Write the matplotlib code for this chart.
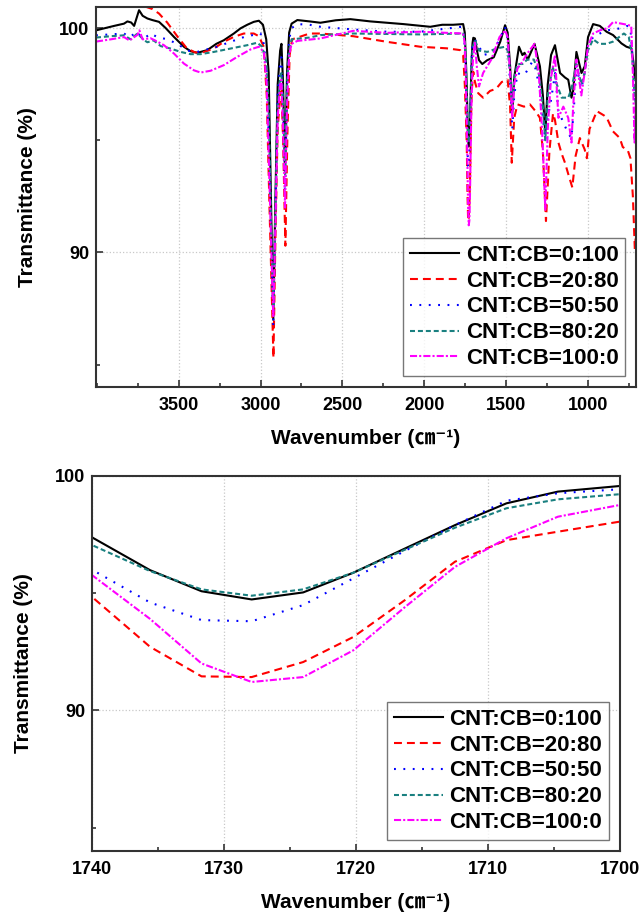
import matplotlib
matplotlib.use("Agg")
import matplotlib.pyplot as plt
import matplotlib.ticker as ticker

plt.rcParams['font.family'] = ['Liberation Sans', 'Noto Sans CJK KR', 'DejaVu Sans']
plt.rcParams['font.weight'] = 'bold'

LABELS = ["CNT:CB=0:100", "CNT:CB=20:80", "CNT:CB=50:50", "CNT:CB=80:20", "CNT:CB=100:0"]
COLORS = ['#000000', '#ff0000', '#0000ff', '#1a8080', '#ff00ff']
STYLES = ['-', (0, (3.8, 2.4)), (0, (0.9, 3.6)), (0, (2.4, 1.4)), (0, (3.4, 1.0, 1.0, 1.0))]

# CNT:CB=0:100
wn_0_100 = [4005, 3950, 3894, 3834, 3813, 3790, 3772, 3742, 3720, 3691, 3661, 3620, 3579, 3529, 3468,
            3427, 3386, 3325, 3270, 3224, 3163, 3122, 3081, 3041, 3010, 2985, 2965, 2950, 2935, 2922,
            2910, 2895, 2880, 2872, 2862, 2850, 2838, 2825, 2810, 2775, 2700, 2634, 2540, 2451, 2329,
            2127, 1963, 1890, 1823, 1762, 1752, 1745, 1740, 1735.6, 1731.7, 1727.9, 1724.0, 1720.2,
            1716.3, 1712.5, 1708.6, 1704.7, 1700, 1690, 1675, 1665, 1645, 1615, 1575, 1535, 1506, 1490,
            1475, 1462, 1450, 1421, 1400, 1387, 1367, 1326, 1293, 1275, 1260, 1245, 1225, 1201, 1170,
            1140, 1120, 1100, 1090, 1070, 1039, 1019, 999, 968, 927, 886, 846, 795, 764, 734, 722, 714, 705]
t_0_100 = [99.9, 100.0, 100.1, 100.2, 100.3, 100.25, 100.1, 100.8, 100.55, 100.43, 100.36, 100.28, 100.0,
           99.61, 99.17, 98.97, 98.9, 99.02, 99.3, 99.46, 99.76, 99.99, 100.15, 100.28, 100.33, 100.15,
           99.5, 98.0, 92.0, 87.0, 92.0, 97.5, 99.0, 99.3, 97.5, 93.5, 98.0, 99.8, 100.2, 100.36, 100.3,
           100.24, 100.35, 100.4, 100.3, 100.18, 100.06, 100.15, 100.15, 100.18, 99.8, 98.5, 97.38,
           95.98, 95.08, 94.73, 95.03, 95.87, 96.9, 97.9, 98.83, 99.33, 99.57, 99.54, 98.9, 98.57, 98.4,
           98.57, 98.7, 99.4, 100.13, 99.8, 98.3, 96.2, 97.8, 99.17, 98.8, 98.9, 98.6, 99.3, 98.3, 97.0,
           95.3, 97.5, 98.8, 99.24, 98.0, 97.8, 97.7, 96.9, 97.2, 98.94, 98.0, 98.3, 99.6, 100.18, 100.1,
           99.84, 99.69, 99.32, 99.17, 99.1, 98.5, 97.8, 97.7]

# CNT:CB=20:80
wn_20_80 = [4005, 3900, 3800, 3720, 3660, 3620, 3570, 3510, 3450, 3400, 3360, 3285, 3224, 3163, 3102,
            3041, 3010, 2980, 2962, 2945, 2921, 2908, 2895, 2880, 2872, 2862, 2848, 2835, 2822, 2807,
            2700, 2634, 2433, 2228, 2024, 1862, 1780, 1762, 1752, 1745, 1740, 1735.6, 1731.7, 1727.9,
            1724.0, 1720.2, 1716.3, 1712.5, 1708.6, 1704.7, 1700, 1690, 1670, 1640, 1598, 1560, 1526,
            1490, 1475, 1465, 1450, 1430, 1390, 1354, 1320, 1293, 1275, 1256, 1235, 1213, 1201, 1180,
            1160, 1140, 1120, 1095, 1075, 1049, 1020, 1006, 990, 945, 900, 884, 847, 805, 787, 756, 740,
            725, 713, 705]
t_20_80 = [101.9, 101.8, 101.5, 101.0, 100.85, 100.65, 100.25, 99.65, 99.1, 98.92, 98.9, 99.09, 99.39,
           99.61, 99.76, 99.76, 99.64, 99.17, 97.0, 92.0, 85.3, 91.0, 95.5, 97.0, 97.2, 95.0, 90.3, 95.5,
           98.8, 99.5, 99.76, 99.76, 99.64, 99.39, 99.17, 99.1, 99.02, 98.8, 97.5, 96.0, 94.84, 92.71,
           91.45, 91.42, 92.06, 93.13, 94.7, 96.34, 97.26, 97.62, 98.05, 97.6, 97.1, 96.9, 97.2, 97.3,
           97.6, 97.7, 96.5, 94.0, 96.0, 96.6, 96.5, 96.6, 96.3, 96.0, 94.5, 91.4, 94.5, 96.2, 95.9, 94.9,
           94.4, 94.0, 93.5, 92.9, 94.3, 95.1, 94.6, 94.2, 95.5, 96.3, 96.1, 96.0, 95.4, 95.1, 94.7,
           94.55, 94.2, 92.5, 90.1, 91.0]

# CNT:CB=50:50
wn_50_50 = [4005, 3915, 3834, 3800, 3752, 3730, 3700, 3672, 3630, 3569, 3508, 3447, 3386, 3265, 3183,
            3102, 3041, 3000, 2980, 2962, 2945, 2922, 2908, 2895, 2880, 2872, 2862, 2850, 2838, 2825,
            2810, 2775, 2700, 2634, 2433, 2228, 2024, 1862, 1771, 1755, 1746, 1740, 1735.6, 1731.7,
            1727.9, 1724.0, 1720.2, 1716.3, 1712.5, 1708.6, 1704.7, 1700, 1690, 1665, 1640, 1580, 1540,
            1506, 1490, 1475, 1462, 1450, 1430, 1400, 1380, 1340, 1320, 1300, 1275, 1260, 1245, 1225,
            1200, 1180, 1150, 1120, 1100, 1085, 1070, 1040, 1020, 1000, 968, 927, 886, 846, 795, 760,
            740, 725, 713, 705]
t_50_50 = [99.68, 99.72, 99.76, 99.6, 99.84, 99.6, 99.6, 99.76, 99.6, 99.5, 99.3, 99.0, 98.94, 99.17,
           99.39, 99.6, 99.7, 99.76, 99.3, 98.0, 94.0, 86.7, 92.5, 97.0, 98.5, 98.7, 96.5, 92.5, 97.5,
           99.5, 100.0, 100.18, 100.15, 100.06, 99.94, 99.84, 99.84, 99.98, 100.06, 99.6, 98.0, 96.0,
           94.6, 93.85, 93.8, 94.49, 95.63, 96.8, 97.9, 98.94, 99.26, 99.43, 99.47, 99.2, 98.8, 98.9,
           99.5, 100.06, 99.5, 97.5, 95.5, 97.0, 98.0, 97.9, 98.0, 98.5, 98.2, 97.5, 96.0, 95.0, 96.0,
           96.8, 98.0, 96.3, 95.8, 95.3, 95.1, 96.5, 98.3, 97.3, 98.0, 99.2, 99.6, 99.76, 99.9, 99.94,
           100.0, 100.1, 100.0, 98.5, 95.8, 97.0]

# CNT:CB=80:20
wn_80_20 = [4005, 3915, 3834, 3793, 3752, 3712, 3691, 3652, 3610, 3549, 3488, 3427, 3366, 3285, 3183,
            3081, 3020, 2990, 2965, 2950, 2935, 2921, 2908, 2895, 2880, 2872, 2862, 2850, 2838, 2825,
            2810, 2700, 2634, 2433, 2024, 1762, 1752, 1745, 1740, 1735.6, 1731.7, 1727.9, 1724.0, 1720.2,
            1716.3, 1712.5, 1708.6, 1704.7, 1700, 1690, 1665, 1615, 1554, 1506, 1490, 1475, 1462, 1450,
            1430, 1400, 1370, 1330, 1300, 1275, 1260, 1245, 1215, 1190, 1160, 1120, 1100, 1070, 1040,
            1020, 1000, 968, 930, 886, 846, 780, 750, 730, 715, 705]
t_80_20 = [99.58, 99.64, 99.68, 99.5, 99.76, 99.47, 99.37, 99.45, 99.2, 99.09, 98.94, 98.84, 98.84,
           98.94, 99.09, 99.24, 99.35, 99.17, 98.5, 96.5, 91.0, 87.5, 92.0, 96.5, 97.8, 98.0, 96.5, 93.5,
           97.5, 99.0, 99.5, 99.58, 99.69, 99.76, 99.72, 99.76, 99.5, 98.4, 97.05, 95.94, 95.16, 94.89,
           95.16, 95.87, 96.85, 97.79, 98.62, 99.0, 99.22, 99.47, 99.0, 98.94, 99.1, 99.17, 99.0, 98.0,
           96.5, 97.8, 98.4, 98.4, 98.6, 98.6, 98.0, 96.5, 95.0, 97.0, 98.3, 97.5, 96.9, 96.9, 97.3,
           98.4, 97.5, 98.0, 99.0, 99.5, 99.3, 99.3, 99.4, 99.76, 99.6, 98.8, 97.0, 96.5]

# CNT:CB=100:0
wn_100_0 = [4005, 3915, 3834, 3800, 3752, 3740, 3720, 3672, 3630, 3590, 3529, 3468, 3407, 3366, 3305,
            3224, 3142, 3061, 3010, 2980, 2962, 2945, 2922, 2908, 2895, 2880, 2872, 2862, 2850, 2838,
            2825, 2810, 2775, 2634, 2433, 2228, 2024, 1762, 1752, 1746, 1740, 1735.6, 1731.7, 1727.9,
            1724.0, 1720.2, 1716.3, 1712.5, 1708.6, 1704.7, 1700, 1690, 1680, 1665, 1640, 1590, 1540,
            1506, 1490, 1475, 1462, 1450, 1430, 1400, 1367, 1326, 1300, 1280, 1260, 1245, 1225, 1201,
            1180, 1150, 1120, 1100, 1090, 1070, 1040, 1020, 999, 968, 927, 880, 846, 795, 760, 735, 725,
            715, 705]
t_100_0 = [99.4, 99.5, 99.6, 99.45, 99.7, 99.9, 99.5, 99.55, 99.4, 99.24, 98.87, 98.42, 98.12, 98.02,
           98.1, 98.35, 98.72, 99.05, 99.17, 98.94, 97.5, 93.0, 87.1, 91.5, 96.0, 97.5, 97.7, 95.5, 92.0,
           96.5, 98.8, 99.3, 99.43, 99.54, 99.88, 99.79, 99.84, 99.76, 99.3, 97.8, 95.77, 93.9, 92.0,
           91.21, 91.42, 92.56, 94.4, 96.12, 97.34, 98.26, 98.76, 99.4, 98.4, 97.4, 98.0, 98.6, 99.6,
           99.9, 99.6, 98.0, 96.0, 97.5, 98.2, 98.5, 98.9, 99.3, 98.0, 95.5, 91.9, 95.5, 97.8, 98.8,
           96.0, 96.5, 96.0, 94.9, 96.5, 98.6, 97.0, 98.0, 99.2, 99.76, 99.9, 100.0, 100.27, 100.2,
           100.15, 100.1, 98.0, 94.9, 97.0]

SERIES = [(wn_0_100, t_0_100), (wn_20_80, t_20_80), (wn_50_50, t_50_50),
          (wn_80_20, t_80_20), (wn_100_0, t_100_0)]


def draw_panel(ax, xlim, ylim, xmajor, xminor):
    for (wn, t), lab, c, ls in zip(SERIES, LABELS, COLORS, STYLES):
        ax.plot(wn, t, color=c, linestyle=ls, linewidth=1.5, label=lab)
    ax.set_xlim(*xlim)
    ax.set_ylim(*ylim)
    ax.xaxis.set_major_locator(ticker.MultipleLocator(xmajor))
    ax.xaxis.set_minor_locator(ticker.MultipleLocator(xminor))
    ax.yaxis.set_major_locator(ticker.MultipleLocator(10))
    ax.yaxis.set_minor_locator(ticker.MultipleLocator(5))
    ax.grid(which='major', color='#c8c8c8', linestyle=':', linewidth=0.9)
    ax.tick_params(which='both', direction='in', labelsize=13, width=1.2, color='#333333')
    ax.tick_params(which='major', length=5)
    ax.tick_params(which='minor', length=3)
    ax.tick_params(axis='x', pad=7)
    ax.tick_params(axis='y', pad=5)
    for s in ax.spines.values():
        s.set_linewidth(1.5)
        s.set_color('#333333')
    ax.set_ylabel("Transmittance (%)", fontsize=15, fontweight='bold', labelpad=16)
    ax.set_xlabel("Wavenumber (㎝⁻¹)", fontsize=15, fontweight='bold', labelpad=11)
    leg = ax.legend(loc='lower right', fontsize=16, frameon=True, fancybox=False,
                    handlelength=2.2, handletextpad=0.3, borderpad=0.3, labelspacing=0.22,
                    borderaxespad=0.5)
    leg.get_frame().set_edgecolor('#555555')
    leg.get_frame().set_linewidth(1.0)


fig = plt.figure(figsize=(6.4, 9.15), dpi=100)
ax1 = fig.add_axes([0.15, 0.577, 0.844, 0.4153])
ax2 = fig.add_axes([0.1437, 0.0699, 0.825, 0.41])

draw_panel(ax1, (4005, 705), (84, 100.94), 500, 250)
ax1.set_xticks([3500, 3000, 2500, 2000, 1500, 1000])
draw_panel(ax2, (1740, 1700), (84, 100), 10, 5)

fig.savefig("out.png", dpi=100)
